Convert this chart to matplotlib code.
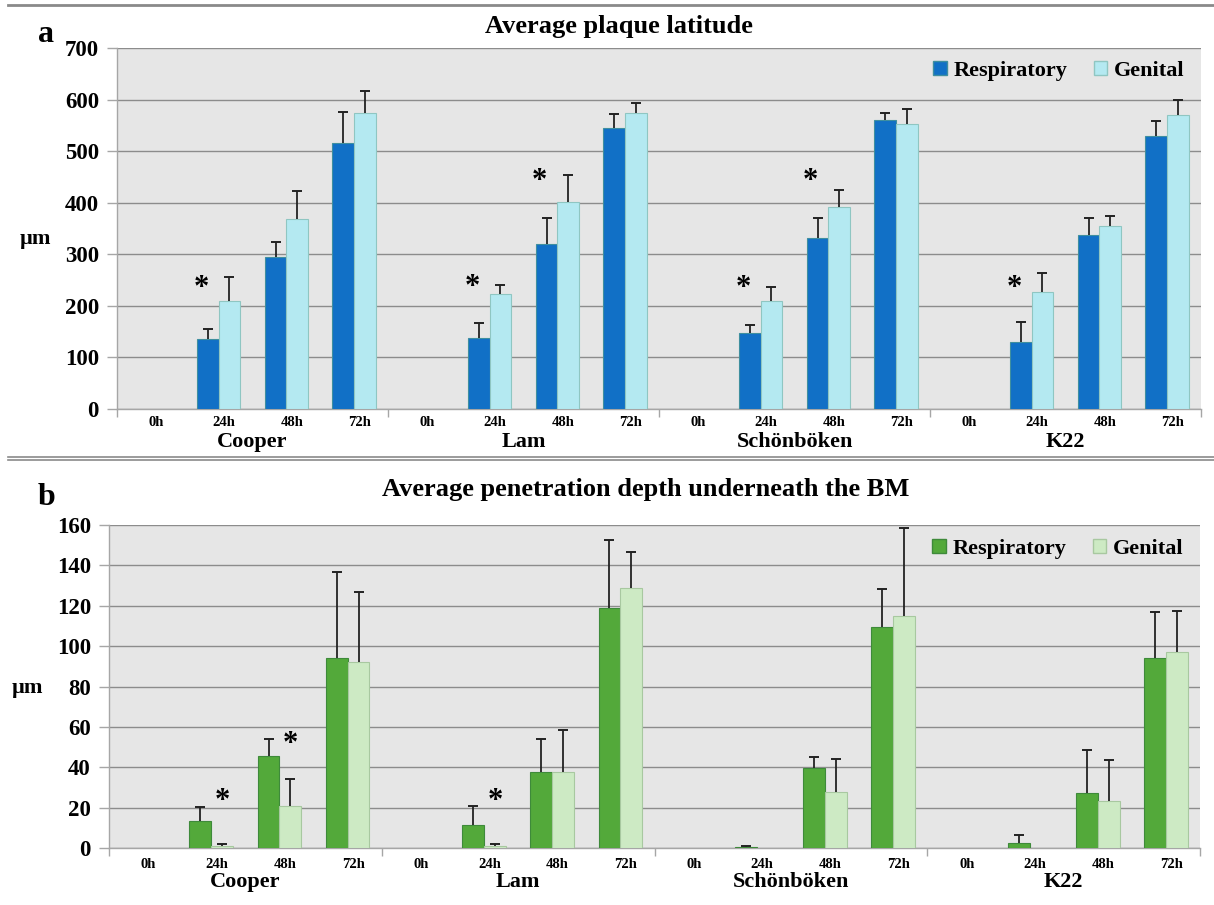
import matplotlib
matplotlib.use("Agg")
import matplotlib.pyplot as plt
from matplotlib.lines import Line2D
from matplotlib.patches import Patch
import matplotlib.transforms as mtransforms
import numpy as np

plt.rcParams['font.family'] = ['Liberation Serif', 'DejaVu Serif']
plt.rcParams['font.weight'] = 'bold'

strains = ["Cooper", "Lam", "Schönböken", "K22"]
times = ["0h", "24h", "48h", "72h"]
series = ["Respiratory", "Genital"]

# Panel a: average plaque latitude (µm), per strain: 0h,24h,48h,72h
lat_resp = [[0, 135, 295, 516],
            [0, 137, 320, 544],
            [0, 147, 331, 560],
            [0, 129, 337, 530]]
lat_resp_err = [[0, 20, 29, 60],
                [0, 30, 50, 28],
                [0, 16, 40, 13],
                [0, 40, 33, 28]]
lat_gen = [[0, 209, 368, 573],
           [0, 223, 401, 573],
           [0, 210, 391, 553],
           [0, 227, 355, 571]]
lat_gen_err = [[0, 46, 55, 43],
               [0, 17, 52, 21],
               [0, 27, 34, 29],
               [0, 37, 19, 29]]
# asterisks: (strain index, time index, height)
lat_stars = [(0, 1, 244), (1, 1, 246), (1, 2, 450), (2, 1, 244), (2, 2, 450), (3, 1, 244)]

# Panel b: average penetration depth underneath the BM (µm)
pen_resp = [[0, 13.5, 45.7, 94],
            [0, 11.4, 37.5, 118.7],
            [0, 0.6, 39.8, 109.3],
            [0, 2.3, 27.4, 94]]
pen_resp_err = [[0, 6.7, 8.5, 42.5],
                [0, 9.6, 16.5, 33.7],
                [0, 0.5, 5.3, 19],
                [0, 4, 21, 23]]
pen_gen = [[0, 1, 21, 92],
           [0, 1, 37.5, 128.6],
           [0, 0, 27.9, 115],
           [0, 0, 23.3, 97.2]]
pen_gen_err = [[0, 1.2, 13, 35],
               [0, 0.8, 21, 18.2],
               [0, 0, 16.3, 43.6],
               [0, 0, 20.4, 20]]
pen_stars = [(0, 1, 25.3), (0, 2, 53.5), (1, 1, 25.3)]

W, H = 1214, 905
fig = plt.figure(figsize=(W / 100, H / 100), dpi=100)

GRID = '#8c8c8c'
BG = '#e6e6e6'


def upper_err(ax, xs, vals, errs):
    m = errs > 0
    ax.vlines(xs[m], vals[m], vals[m] + errs[m], color='#222222', linewidth=1.3, zorder=4)
    ax.plot(xs[m], vals[m] + errs[m], linestyle='none', marker='_', markersize=7,
            markeredgewidth=1.4, color='#222222', zorder=4)


def panel(rect, resp, resp_err, gen, gen_err, stars, star_on_gen, ymax, ystep,
          c_resp, c_gen, e_resp, e_gen, title, title_x, letter, letter_xy, title_y,
          tick_y_off, strain_y_off, ylab_y, leg_y):
    ax = fig.add_axes(rect)
    ax.set_facecolor(BG)
    n = len(strains) * len(times)
    x = np.arange(n)
    r = np.array(resp, float).ravel()
    re = np.array(resp_err, float).ravel()
    g = np.array(gen, float).ravel()
    ge = np.array(gen_err, float).ravel()
    bw = 0.32
    mr = r > 0
    mg = g > 0
    ax.bar((x - bw / 2)[mr], r[mr], bw, color=c_resp, edgecolor=e_resp, linewidth=0.8, zorder=3)
    ax.bar((x + bw / 2)[mg], g[mg], bw, color=c_gen, edgecolor=e_gen, linewidth=0.8, zorder=3)
    upper_err(ax, x - bw / 2, r, re)
    upper_err(ax, x + bw / 2, g, ge)
    ax.set_xlim(-0.5, n - 0.5)
    ax.set_ylim(0, ymax)
    ax.set_yticks(np.arange(0, ymax + 1, ystep))
    ax.yaxis.grid(True, color=GRID, linewidth=1.0, zorder=0)
    ax.set_axisbelow(True)
    for s in ['top', 'right']:
        ax.spines[s].set_visible(False)
    ax.spines['left'].set_color('#a6a6a6')
    ax.spines['bottom'].set_color('#a6a6a6')
    ax.spines['left'].set_linewidth(1.0)
    ax.spines['bottom'].set_linewidth(1.0)
    ax.tick_params(axis='y', length=7, width=1.0, color='#a6a6a6',
                   labelsize=16.5, pad=6)
    for lab in ax.get_yticklabels():
        lab.set_fontweight('bold')
    ax.set_xticks([-0.5, 3.5, 7.5, 11.5, 15.5])
    ax.set_xticklabels([])
    ax.tick_params(axis='x', length=6, width=1.0, color='#a6a6a6')
    trans = mtransforms.blended_transform_factory(ax.transData, ax.transAxes)
    for i in range(n):
        ax.text(x[i] + 0.08, tick_y_off, times[i % 4], transform=trans,
                ha='center', va='center', fontsize=10.5, fontweight='bold')
    for k, sname in enumerate(strains):
        ax.text(4 * k + 1.5, strain_y_off, sname, transform=trans,
                ha='center', va='center', fontsize=16, fontweight='bold')
    for (si, ti, h) in stars:
        xi = 4 * si + ti
        xs = xi + bw / 2 if star_on_gen else xi - bw / 2 - 0.1
        ax.text(xs, h, '*', ha='center', va='center', fontsize=22,
                fontweight='bold', zorder=5,
                transform=ax.transData + mtransforms.ScaledTranslation(0, -0.05, fig.dpi_scale_trans))
    ax.set_ylabel('µm', rotation=0, fontsize=16, fontweight='bold', va='center')
    ax.yaxis.set_label_coords(-0.075, ylab_y)
    handles = [Patch(facecolor=c_resp, edgecolor=e_resp), Patch(facecolor=c_gen, edgecolor=e_gen)]
    ax.legend(handles, series, loc='upper right', ncol=2, frameon=False,
              prop={'size': 16, 'weight': 'bold'}, handlelength=0.6,
              handleheight=0.6, handletextpad=0.3, columnspacing=1.2,
              bbox_to_anchor=(1.003, leg_y))
    fig.text(title_x, title_y, title, ha='center', va='center', fontsize=19,
             fontweight='bold')
    fig.text(letter_xy[0], letter_xy[1], letter, ha='center', va='center',
             fontsize=23, fontweight='bold')
    return ax


panel([117 / W, 1 - 409 / H, (1201 - 117) / W, (409 - 48) / H],
      lat_resp, lat_resp_err, lat_gen, lat_gen_err, lat_stars, False, 700, 100,
      '#1170c6', '#b4e9f1', '#3f8f9f', '#8fc6c2',
      'Average plaque latitude', 619 / W, 'a', (46 / W, 1 - 34 / H), 1 - 26 / H,
      -0.038, -0.092, 0.47, 1.02)

panel([109 / W, 1 - 848 / H, (1200 - 109) / W, (848 - 525) / H],
      pen_resp, pen_resp_err, pen_gen, pen_gen_err, pen_stars, True, 160, 20,
      '#53a93a', '#cdeac4', '#3e8a3a', '#a8c8a0',
      'Average penetration depth underneath the BM', 646 / W, 'b', (46 / W, 1 - 497 / H), 1 - 489 / H,
      -0.052, -0.105, 0.495, 1.02)

# frame lines
for y, lw in [(5, 2.0), (457, 1.2), (460, 1.2)]:
    fig.add_artist(Line2D([8 / W, 1.0], [1 - y / H, 1 - y / H], color='#8a8a8a',
                          linewidth=lw, transform=fig.transFigure))

fig.savefig('out.png', dpi=100)
